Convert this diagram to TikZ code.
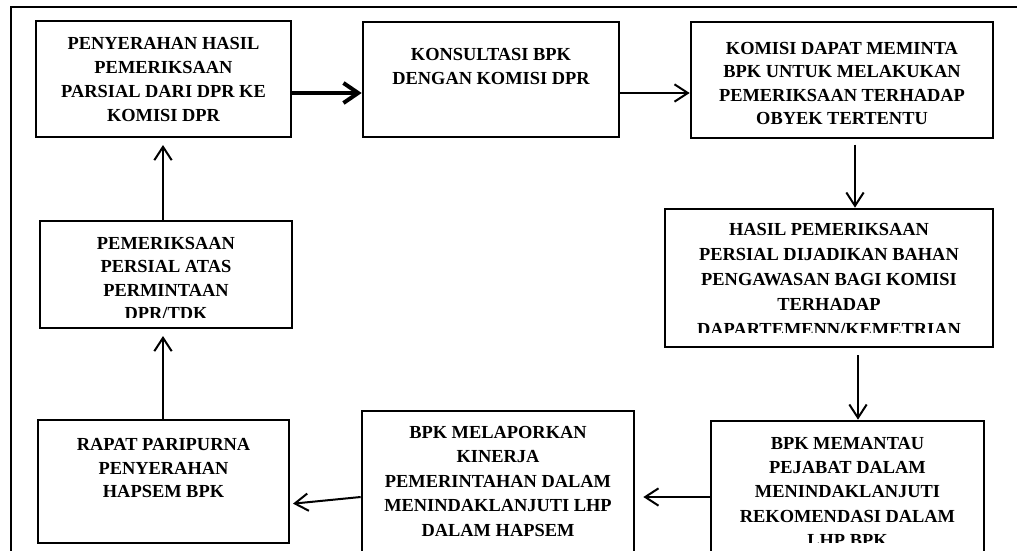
\documentclass[tikz,border=0pt]{standalone}
\usepackage{fontspec}
\setmainfont{Liberation Serif}
\usetikzlibrary{arrows.meta}
\tikzset{
  box/.style={draw, line width=2pt, inner sep=0pt},
  txt/.style={anchor=north, align=center, inner sep=0pt,
    font=\bfseries\fontsize{13.8}{17.6}\selectfont},
  widetxt/.style={txt, font=\bfseries\fontsize{13.8}{18.3}\selectfont},
  arr/.style={line width=1.5pt, -{Straight Barb[length=10pt,width=13pt,line width=1.5pt]}},
  thickarr/.style={line width=3pt, -{Straight Barb[length=11pt,width=15pt,line width=3pt]}},
  frame/.style={line width=2.2pt}
}
\begin{document}
\begin{tikzpicture}[x=0.75pt,y=-0.75pt]
\clip (0,0) rectangle (1017,550);
\useasboundingbox (0,0) rectangle (1017,550);
% outer frame
\coordinate (f1) at (11,560);
\coordinate (f2) at (11,7);
\coordinate (f3) at (1030,7);
\draw[frame] (f1) -- (f2) -- (f3);
% boxes
\node[box, minimum width=191.25pt, minimum height=87pt] (b1) at (163.5,79) {};
\node[box, minimum width=192pt, minimum height=86.25pt] (b2) at (491,79.5) {};
\node[box, minimum width=226.5pt, minimum height=87pt] (b3) at (842,80) {};
\node[box, minimum width=189pt, minimum height=80.25pt] (b4) at (166,274.5) {};
\node[box, minimum width=246pt, minimum height=103.5pt] (b5) at (829,278) {};
\node[box, minimum width=188.25pt, minimum height=92.25pt] (b6) at (163.5,481.5) {};
\node[box, minimum width=204pt, minimum height=141.75pt] (b7) at (498,505.5) {};
\node[box, minimum width=204.75pt, minimum height=134.25pt] (b8) at (847.5,510.5) {};
% texts
\node[txt, font=\bfseries\fontsize{13.8}{17.8}\selectfont] (t1) at (163.5,37.5) {PENYERAHAN HASIL\\PEMERIKSAAN\\PARSIAL DARI DPR KE\\KOMISI DPR};
\node[txt, font=\bfseries\fontsize{13.8}{18}\selectfont] (t2) at (491,48.3) {KONSULTASI BPK\\DENGAN KOMISI DPR};
\node[txt] (t3) at (842,41.7) {KOMISI DAPAT MEMINTA\\BPK UNTUK MELAKUKAN\\PEMERIKSAAN TERHADAP\\OBYEK TERTENTU};
\begin{scope}
\clip (40,221) rectangle (292,317);
\node[txt] (t4) at (166,237) {PEMERIKSAAN\\PERSIAL ATAS\\PERMINTAAN\\DPR/TDK};
\end{scope}
\begin{scope}
\clip (665,209) rectangle (993,332);
\node[txt, font=\bfseries\fontsize{13.8}{18.75}\selectfont] (t5) at (829,223) {HASIL PEMERIKSAAN\\PERSIAL DIJADIKAN BAHAN\\PENGAWASAN BAGI KOMISI\\TERHADAP\\DAPARTEMENN/KEMETRIAN};
\end{scope}
\node[txt] (t6) at (163.5,438.3) {RAPAT PARIPURNA\\PENYERAHAN\\HAPSEM BPK};
\node[widetxt] (t7) at (498,426) {BPK MELAPORKAN\\KINERJA\\PEMERINTAHAN DALAM\\MENINDAKLANJUTI LHP\\DALAM HAPSEM};
\begin{scope}
\clip (711,421) rectangle (984,542);
\node[widetxt] (t8) at (847.5,436.7) {BPK MEMANTAU\\PEJABAT DALAM\\MENINDAKLANJUTI\\REKOMENDASI DALAM\\LHP BPK};
\end{scope}
% reference coordinates for connector levels
\coordinate (r1) at (0,93);
\coordinate (v1) at (855,0);
\coordinate (v2) at (858,0);
\coordinate (r2) at (0,497);
\coordinate (v3) at (163,0);
% connectors
\draw[thickarr] (b1.east|-r1) -- (b2.west|-r1);
\draw[arr] (b2.east|-r1) -- (b3.west|-r1);
\draw[arr] ([yshift=-4]b3.south-|v1) -- (b5.north-|v1);
\draw[arr] ([yshift=-5]b5.south-|v2) -- (b8.north-|v2);
\draw[arr] (b8.west|-r2) -- ([xshift=6]b7.east|-r2);
\draw[arr] (b7.west|-r2) -- ([xshift=2,yshift=-5]b6.east|-r2);
\draw[arr] (b6.north-|v3) -- ([yshift=-5]b4.south-|v3);
\draw[arr] (b4.north-|v3) -- ([yshift=-5]b1.south-|v3);
\end{tikzpicture}
\end{document}
